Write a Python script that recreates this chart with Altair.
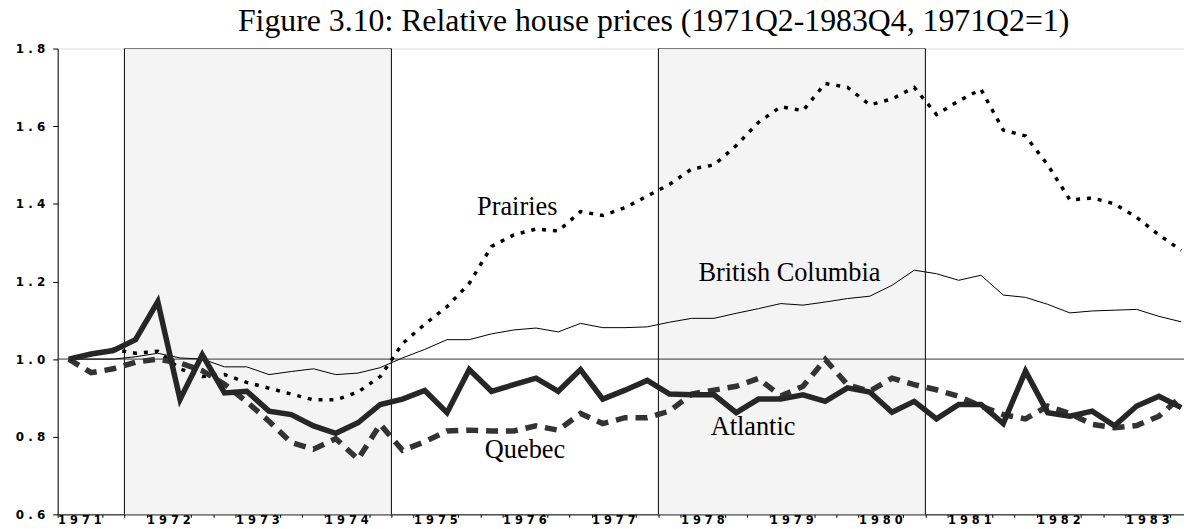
import altair as alt
import pandas as pd

# ---------------- data ----------------
quarters = [f"{y}Q{q}" for y in range(1971, 1984) for q in range(1, 5)][1:]  # 1971Q2 .. 1983Q4

prairies = [1.000, 1.012, 1.025, 1.015, 1.020, 0.975, 0.955, 0.960, 0.940, 0.925,
            0.910, 0.895, 0.895, 0.915, 0.955, 1.040, 1.090, 1.135, 1.195, 1.290,
            1.320, 1.335, 1.330, 1.380, 1.370, 1.390, 1.420, 1.450, 1.490, 1.500,
            1.550, 1.610, 1.650, 1.640, 1.710, 1.700, 1.655, 1.670, 1.700, 1.630,
            1.665, 1.695, 1.590, 1.575, 1.500, 1.410, 1.415, 1.400, 1.365, 1.320,
            1.280]

british_columbia = [1.000, 1.000, 1.000, 1.006, 1.015, 1.003, 1.000, 0.980, 0.980, 0.960,
                    0.968, 0.975, 0.960, 0.964, 0.978, 1.003, 1.025, 1.050, 1.050, 1.065,
                    1.075, 1.080, 1.070, 1.092, 1.081, 1.081, 1.083, 1.095, 1.105, 1.105,
                    1.118, 1.130, 1.143, 1.139, 1.147, 1.156, 1.162, 1.190, 1.229, 1.220,
                    1.203, 1.216, 1.165, 1.159, 1.141, 1.119, 1.124, 1.126, 1.128, 1.110,
                    1.096]

quebec = [1.000, 0.965, 0.975, 0.992, 1.000, 0.990, 0.970, 0.935, 0.890, 0.840,
          0.785, 0.768, 0.795, 0.742, 0.832, 0.765, 0.787, 0.815, 0.817, 0.815,
          0.815, 0.828, 0.817, 0.860, 0.834, 0.849, 0.849, 0.866, 0.910, 0.920,
          0.930, 0.950, 0.905, 0.930, 0.999, 0.934, 0.917, 0.951, 0.934, 0.921,
          0.904, 0.879, 0.857, 0.846, 0.879, 0.860, 0.832, 0.823, 0.829, 0.853,
          0.904]

atlantic = [1.000, 1.013, 1.022, 1.050, 1.148, 0.896, 1.011, 0.913, 0.917, 0.866,
            0.857, 0.828, 0.809, 0.836, 0.883, 0.897, 0.919, 0.862, 0.973, 0.917,
            0.934, 0.951, 0.917, 0.973, 0.897, 0.920, 0.945, 0.910, 0.908, 0.908,
            0.862, 0.897, 0.897, 0.908, 0.891, 0.926, 0.915, 0.863, 0.891, 0.846,
            0.883, 0.883, 0.834, 0.969, 0.862, 0.853, 0.866, 0.828, 0.879, 0.904,
            0.875]

shade_start = ["1972Q1", "1978Q1"]
shade_end = ["1975Q1", "1981Q1"]

years = [str(y) for y in range(1971, 1984)]

label_names = ["Prairies", "British Columbia", "Quebec", "Atlantic"]
label_quarter = [19.85, 29.8, 20.2, 30.35]   # position in quarter units
label_value = [1.372, 1.200, 0.745, 0.805]

y_ticks = [0.6, 0.8, 1.0, 1.2, 1.4, 1.6, 1.8]

title_text = "Figure 3.10: Relative house prices (1971Q2-1983Q4, 1971Q2=1)"


def qstart(label):
    y, q = int(label[:4]), int(label[5])
    return (y - 1971) * 4 + (q - 1)


def series_df(vals):
    return pd.DataFrame({"t": [qstart(q) + 0.5 for q in quarters], "v": vals})


shade_df = pd.DataFrame({"s": [qstart(q) for q in shade_start],
                         "e": [qstart(q) for q in shade_end]})
edge_df = pd.DataFrame({"t": [qstart(q) for q in shade_start + shade_end]})
labels_df = pd.DataFrame({"t": label_quarter, "v": label_value, "name": label_names})
years_df = pd.DataFrame({"t": [qstart(y + "Q3") for y in years],
                         "lab": [" ".join(y) for y in years]})

# ---------------- scales / axes ----------------
X_DOMAIN = [1, 51.625]
PLOT_H = 469
AXIS_FONT = "DejaVu Sans"
xs = alt.Scale(domain=X_DOMAIN, nice=False, zero=False)
ys = alt.Scale(domain=[0.6, 1.8], nice=False, zero=False)

x_axis = alt.Axis(
    values=[v for v in range(1, 52) if v % 4 != 2],
    labels=False,
    tickSize=3, tickColor="black",
    domainColor="black", grid=False, title=None,
)
y_axis = alt.Axis(
    values=y_ticks,
    labelExpr="join(split(format(datum.value, '.1f'), ''), ' ')",
    labelFont=AXIS_FONT, labelFontWeight="bold", labelFontSize=12,
    labelColor="black", labelPadding=8, labelFlush=False,
    tickSize=5, tickColor="black", domainColor="black", grid=False, title=None,
)

X = alt.X("t:Q", scale=xs, axis=x_axis)
Y = alt.Y("v:Q", scale=ys, axis=y_axis)

# ---------------- layers ----------------
shade = alt.Chart(shade_df).mark_rect(color="#f4f4f4").encode(
    x=alt.X("s:Q", scale=xs, axis=x_axis), x2="e:Q")
shade_top = alt.Chart(shade_df).mark_rule(color="#777", strokeWidth=1).encode(
    x=alt.X("s:Q", scale=xs, axis=x_axis), x2="e:Q", y=alt.value(0))
shade_edges = alt.Chart(edge_df).mark_rule(color="black", strokeWidth=1).encode(
    x=alt.X("t:Q", scale=xs, axis=x_axis))
base_rule = alt.Chart(pd.DataFrame({"v": [1.0]})).mark_rule(
    color="#333", strokeWidth=1).encode(y=alt.Y("v:Q", scale=ys, axis=y_axis))

bc_line = alt.Chart(series_df(british_columbia)).mark_line(
    color="black", strokeWidth=1).encode(x=X, y=Y)
pr_line = alt.Chart(series_df(prairies)).mark_line(
    color="black", strokeWidth=3.5, strokeDash=[4, 7]).encode(x=X, y=Y)
qc_line = alt.Chart(series_df(quebec)).mark_line(
    color="#333", strokeWidth=5.5, strokeDash=[12, 8]).encode(x=X, y=Y)
at_line = alt.Chart(series_df(atlantic)).mark_line(
    color="#262626", strokeWidth=5.5, strokeJoin="miter").encode(x=X, y=Y)

texts = alt.Chart(labels_df).mark_text(
    font="Liberation Serif", fontSize=26.5, align="left", baseline="alphabetic",
    color="black").encode(x=alt.X("t:Q", scale=xs, axis=x_axis),
                          y=alt.Y("v:Q", scale=ys, axis=y_axis), text="name:N")

# year labels of the x axis, centred in each year, just below the axis line
year_text = alt.Chart(years_df).mark_text(
    font=AXIS_FONT, fontWeight="bold", fontSize=11.5, align="center",
    baseline="top", color="black").encode(
    x=alt.X("t:Q", scale=xs, axis=x_axis), y=alt.value(PLOT_H + 1), text="lab:N")

chart = alt.layer(
    shade, shade_top, shade_edges, base_rule, bc_line, pr_line, qc_line, at_line,
    texts, year_text
).properties(
    width=1134, height=PLOT_H,
    autosize=alt.AutoSizeParams(type="none"),
    padding={"left": 50, "top": 39, "right": 0, "bottom": 25},
    title=alt.TitleParams(text=title_text, font="Liberation Serif", fontSize=32,
                          fontWeight="normal", color="black", anchor="middle",
                          frame="group", dx=33, dy=5, offset=10),
).configure_view(stroke=None).configure(background="white")

chart.save("out.html", embed_options={"renderer": "svg", "actions": False})
